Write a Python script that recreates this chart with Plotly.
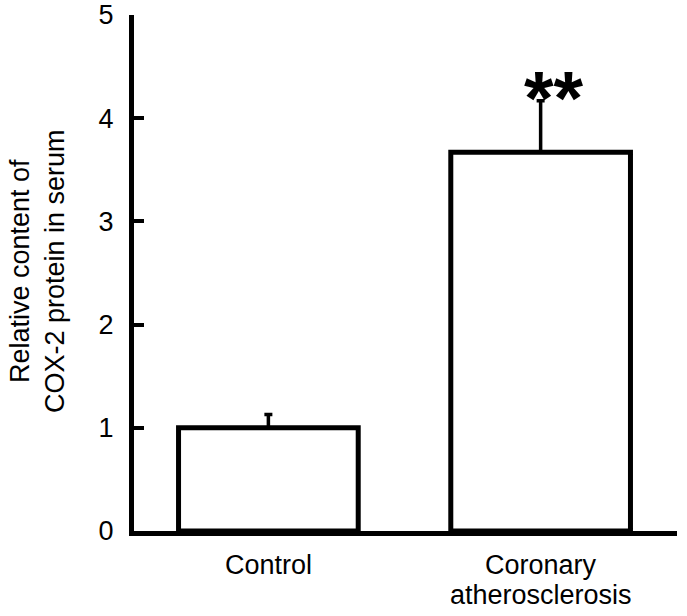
import plotly.graph_objects as go

categories = ["Control", "Coronary<br>atherosclerosis"]
values = [1.0, 3.67]
errors = [0.13, 0.5]
y_ticks = [0, 1, 2, 3, 4, 5]
significance = ["", "**"]
y_title = "Relative content of<br>COX-2 protein in serum"

x_pos = list(range(len(categories)))
FONT = "Liberation Sans, Arial, sans-serif"

fig = go.Figure()
fig.add_trace(go.Bar(
    x=x_pos, y=values, width=0.66,
    marker=dict(color="white", line=dict(color="black", width=5)),
    error_y=dict(type="data", array=errors, arrayminus=[0] * len(errors),
                 symmetric=False, color="black", thickness=3.5, width=4),
    showlegend=False,
))
for xi, v, e, s in zip(x_pos, values, errors, significance):
    if s:
        fig.add_annotation(x=xi, y=v + e, text="<b>" + s + "</b>", showarrow=False,
                           xanchor="center", yanchor="middle", xshift=13, yshift=3,
                           font=dict(family=FONT, size=76, color="black"))

# category labels (one annotation per line for tight line spacing)
for xi, cat in zip(x_pos, categories):
    for li, line in enumerate(cat.split("<br>")):
        fig.add_annotation(x=xi, xref="x", y=0, yref="paper", text=line,
                           showarrow=False, xanchor="center", yanchor="top",
                           yshift=-17 - 30 * li,
                           font=dict(family=FONT, size=27, color="black"))

fig.add_annotation(x=0, xref="paper", y=0.5, yref="paper", text=y_title,
                   textangle=-90, showarrow=False, xanchor="center", yanchor="middle",
                   xshift=-97, yshift=2, font=dict(family=FONT, size=27, color="black"))

fig.update_layout(
    width=687, height=616,
    margin=dict(l=133.5, r=10, t=15, b=85, autoexpand=False),
    plot_bgcolor="white", paper_bgcolor="white",
    font=dict(family=FONT, color="black"),
    xaxis=dict(range=[-0.4936, 1.5009], tickvals=x_pos, showticklabels=False,
               showline=True, linecolor="black", linewidth=5, ticks="",
               showgrid=False, zeroline=False, automargin=False, fixedrange=True),
    yaxis=dict(range=[0, 5], tickvals=y_ticks, showline=True, linecolor="black",
               linewidth=5, ticks="inside", ticklen=10, tickwidth=4, tickcolor="black",
               showgrid=False, zeroline=False, tickfont=dict(family=FONT, size=27),
               ticklabelstandoff=10, ticklabeloverflow="allow",
               automargin=False, fixedrange=True),
)
fig.write_html("out.html", config={"displayModeBar": False},
               post_script="document.body.style.margin='0';document.body.style.padding='0';")
